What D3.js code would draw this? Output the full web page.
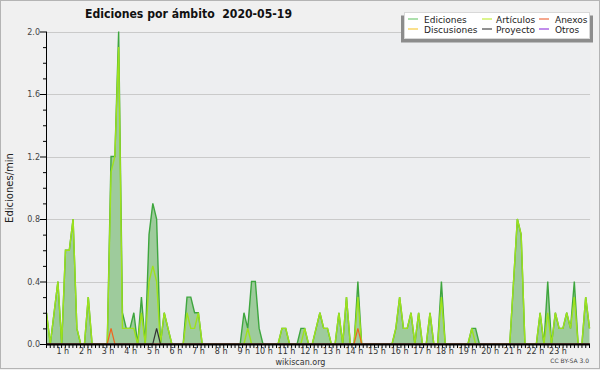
<!DOCTYPE html>
<html><head><meta charset="utf-8">
<script src="https://cdn.jsdelivr.net/npm/d3@7"></script>
<style>
html,body{margin:0;padding:0;background:#f0f0f0;}
svg{display:block;}
text{font-family:"DejaVu Sans",sans-serif;}
</style></head>
<body>
<svg id="c" width="600" height="370"></svg>
<script>
// ---- data: 10-minute bins, edits per minute, 2020-05-19 ----
const title = "Ediciones por ámbito  2020-05-19";
const yLabel = "Ediciones/min";
const hourLabels = ["1 h","2 h","3 h","4 h","5 h","6 h","7 h","8 h","9 h","10 h","11 h","12 h",
  "13 h","14 h","15 h","16 h","17 h","18 h","19 h","20 h","21 h","22 h","23 h"];
const yMajorTicks = [0, 0.4, 0.8, 1.2, 1.6, 2.0];
const yMinorTicks = [0.1,0.2,0.3,0.5,0.6,0.7,0.9,1.0,1.1,1.3,1.4,1.5,1.7,1.8,1.9];

const ediciones = [
  0.2,0,0.2,0.4,0,0.6,   0.6,0.8,0.1,0,0,0.3,
  0,0,0,0,0,1.2,         1.2,2.0,0.2,0.1,0.1,0.2,
  0,0.3,0,0.7,0.9,0.8,   0,0.2,0.1,0,0,0,
  0,0.3,0.3,0.2,0.2,0,   0,0,0,0,0,0,
  0,0,0,0,0.2,0.1,       0.4,0.4,0.1,0,0,0,
  0,0,0.1,0.1,0,0,       0,0.1,0.1,0,0,0.1,
  0.2,0.1,0.1,0,0,0.2,   0,0.3,0,0,0.4,0,
  0,0,0,0,0,0,           0,0,0.1,0.3,0.1,0.1,
  0.2,0,0.2,0,0,0.2,     0,0,0.4,0,0,0,
  0,0,0,0,0.1,0.1,       0,0,0,0,0,0,
  0,0,0,0.4,0.8,0.7,     0,0,0,0,0.2,0,
  0.4,0,0.2,0.1,0.1,0.2, 0.1,0.4,0,0,0.3,0.1
];
const articulos = [
  0.2,0,0.2,0.4,0,0.6,   0.6,0.8,0.1,0,0,0.3,
  0,0,0,0,0,1.1,         1.2,1.9,0.1,0.1,0.1,0.1,
  0,0.2,0,0.4,0.5,0.4,   0,0.2,0.1,0,0,0,
  0,0.2,0.1,0.1,0.2,0,   0,0,0,0,0,0,
  0,0,0,0,0,0.1,         0,0,0,0,0,0,
  0,0,0.1,0.1,0,0,       0,0,0.1,0,0,0.1,
  0.2,0.1,0.1,0,0,0.2,   0,0.3,0,0,0.3,0,
  0,0,0,0,0,0,           0,0,0.1,0.3,0.1,0.1,
  0.2,0,0.2,0,0,0.2,     0,0,0.3,0,0,0,
  0,0,0,0,0.1,0,         0,0,0,0,0,0,
  0,0,0,0.4,0.8,0.7,     0,0,0,0,0.2,0,
  0.2,0,0.2,0.1,0.1,0.2, 0.1,0.3,0,0,0.3,0.1
];
const anexos = [
  0,0,0,0,0,0,   0,0,0,0,0,0,   0,0,0,0,0,0.1, 0,0,0,0,0,0,
  0,0,0,0,0,0,   0,0,0,0,0,0,   0,0,0,0,0,0,   0,0,0,0,0,0,
  0,0,0,0,0,0,   0,0,0,0,0,0,   0,0,0,0,0,0,   0,0,0,0,0,0,
  0,0,0,0,0,0,   0,0,0,0,0.1,0, 0,0,0,0,0,0,   0,0,0,0,0,0,
  0,0,0,0,0,0,   0,0,0,0,0,0,   0,0,0,0,0,0,   0,0,0,0,0,0,
  0,0,0,0,0,0,   0,0,0,0,0,0,   0,0,0,0,0,0,   0,0,0,0,0,0
];
const discusiones = [
  0,0,0,0,0,0,   0,0,0,0,0,0,   0,0,0,0,0,0,   0,0,0,0,0,0,
  0,0,0,0,0,0,   0,0,0,0,0,0,   0,0,0,0,0,0,   0,0,0,0,0,0,
  0,0,0,0,0,0,   0,0,0,0,0,0,   0,0,0,0,0,0,   0,0,0,0,0,0,
  0,0,0,0,0,0,   0,0,0,0,0,0,   0,0,0,0,0,0,   0,0,0,0,0,0,
  0,0,0,0,0,0,   0,0,0,0,0,0,   0,0,0,0,0,0,   0,0,0,0,0,0,
  0,0,0,0,0,0,   0,0,0,0,0,0,   0,0,0,0,0,0,   0,0,0,0,0,0
];
const proyecto = [
  0,0,0,0,0,0,   0,0,0,0,0,0,   0,0,0,0,0,0,   0,0,0,0,0,0,
  0,0,0,0,0,0.1, 0,0,0,0,0,0,   0,0,0,0,0,0,   0,0,0,0,0,0,
  0,0,0,0,0,0,   0,0,0,0,0,0,   0,0,0,0,0,0,   0,0,0,0,0,0,
  0,0,0,0,0,0,   0,0,0,0,0,0,   0,0,0,0,0,0,   0,0,0,0,0,0,
  0,0,0,0,0,0,   0,0,0,0,0,0,   0,0,0,0,0,0,   0,0,0,0,0,0,
  0,0,0,0,0,0,   0,0,0,0,0,0,   0,0,0,0,0,0,   0,0,0,0,0,0
];
const otros = [
  0,0,0,0,0,0,   0,0,0,0,0,0,   0,0,0,0,0,0,   0,0,0,0,0,0,
  0,0,0,0,0,0,   0,0,0,0,0,0,   0,0,0,0,0,0,   0,0,0,0,0,0,
  0,0,0,0,0,0,   0,0,0,0,0,0,   0,0,0,0,0,0,   0,0,0,0,0,0,
  0,0,0,0,0,0,   0,0,0,0,0,0,   0,0,0,0,0,0,   0,0,0,0,0,0,
  0,0,0,0,0,0,   0,0,0,0,0,0,   0,0,0,0,0,0,   0,0,0,0,0,0,
  0,0,0,0,0,0,   0,0,0,0,0,0,   0,0,0,0,0,0,   0,0,0,0,0,0
];
const legendNames = ["Ediciones","Discusiones","Artículos","Proyecto","Anexos","Otros"];

// ---- drawing ----
const svg = d3.select("#c");
const L = 46, R = 589.5, T = 31.5, B = 344;
const xi = d3.scaleLinear().domain([0, ediciones.length - 1]).range([46.5, 589.5]);
const xh = d3.scaleLinear().domain([0, 24]).range([46, 589]);
const y = d3.scaleLinear().domain([0, 2]).range([B, T]);

svg.append("rect").attr("x",0.5).attr("y",0.5).attr("width",599).attr("height",368)
  .attr("fill","#f0f0f0").attr("stroke","#b4b4b4");
svg.append("rect").attr("x",L).attr("y",T).attr("width",R-L+1).attr("height",B-T)
  .attr("fill","#edeef0");

// grid
svg.append("g").selectAll("line").data(yMajorTicks.filter(d=>d>0)).join("line")
  .attr("x1",L).attr("x2",590).attr("y1",d=>Math.round(y(d))+0.5).attr("y2",d=>Math.round(y(d))+0.5)
  .attr("stroke","#cacaca").attr("stroke-width",1);

const line = arr => d3.line().x((d,i)=>xi(i)).y(d=>y(d))(arr);
const area = d3.area().x((d,i)=>xi(i)).y0(y(0)).y1(d=>y(d));

svg.append("path").attr("d", area(ediciones)).attr("fill","#9ecb9c");
svg.append("path").attr("d", line(ediciones)).attr("fill","none").attr("stroke","#3ea63e").attr("stroke-width",1.4);
svg.append("path").attr("d", line(articulos)).attr("fill","none").attr("stroke","#9ee21c").attr("stroke-width",1.4);
svg.append("path").attr("d", line(discusiones)).attr("fill","none").attr("stroke","#f5d03c").attr("stroke-width",1.2);
svg.append("path").attr("d", line(otros)).attr("fill","none").attr("stroke","#9a4ee0").attr("stroke-width",1.2);
svg.append("path").attr("d", line(anexos)).attr("fill","none").attr("stroke","#f0641e").attr("stroke-width",1.2);
svg.append("path").attr("d", line(proyecto)).attr("fill","none").attr("stroke","#333").attr("stroke-width",1.2);

// y axis
const yAx = svg.append("g").attr("transform",`translate(${L},0)`)
  .call(d3.axisLeft(y).tickValues(yMajorTicks).tickSize(6).tickFormat(d3.format(".1f")));
const yMin = svg.append("g").attr("transform",`translate(${L},0)`)
  .call(d3.axisLeft(y).tickValues(yMinorTicks).tickSize(3).tickFormat(""));
[yAx,yMin].forEach(g=>{g.select(".domain").remove(); g.selectAll("line").attr("stroke","#000");});
yAx.selectAll("text").attr("x",-6).attr("font-size","8px").attr("fill","#444").attr("font-family","DejaVu Sans");
svg.append("line").attr("x1",L+0.5).attr("x2",L+0.5).attr("y1",T).attr("y2",B+1).attr("stroke","#000");

// x axis
const xTicks = d3.range(0, 24*6+1).map(d=>d/6);
const xAx = svg.append("g").attr("transform",`translate(0,${B})`)
  .call(d3.axisBottom(xh).tickValues(xTicks).tickSize(4).tickFormat(""));
xAx.select(".domain").remove();
xAx.selectAll("line").attr("stroke","#000");
svg.append("line").attr("x1",L).attr("x2",590).attr("y1",B+0.5).attr("y2",B+0.5).attr("stroke","#000").attr("stroke-width",2);
svg.append("g").selectAll("text").data(hourLabels).join("text")
  .attr("x",(d,i)=>xh(i+1)+0.5).attr("y",354).attr("text-anchor","end")
  .attr("font-size","8px").attr("fill","#333").text(d=>d);

// titles
svg.append("text").attr("x",85).attr("y",18).attr("text-anchor","start")
  .attr("font-family","'DejaVu Sans Condensed','DejaVu Sans',sans-serif").attr("font-weight","bold")
  .attr("font-size","12px").attr("fill","#111")
  .attr("textLength",207).attr("lengthAdjust","spacingAndGlyphs")
  .style("white-space","pre").attr("xml:space","preserve").text(title);
svg.append("text").attr("transform","translate(13,188) rotate(-90)").attr("text-anchor","middle")
  .attr("font-family","'DejaVu Sans Mono',monospace").attr("font-size","10px").attr("fill","#222").text(yLabel);
svg.append("text").attr("x",300.5).attr("y",365).attr("text-anchor","middle")
  .attr("font-size","8px").attr("fill","#333").text("wikiscan.org");
svg.append("text").attr("x",589).attr("y",363).attr("text-anchor","end")
  .attr("font-size","6px").attr("fill","#444").text("CC BY-SA 3.0");

// legend
const lg = svg.append("g");
lg.append("rect").attr("x",401).attr("y",15.5).attr("width",192).attr("height",27).attr("fill","#8c8c8c");
lg.append("rect").attr("x",404.5).attr("y",12.5).attr("width",185).attr("height",26).attr("fill","#fff").attr("stroke","#d8d8d8");
const legendColors = ["#80cf80","#f8d050","#c8ee50","#555555","#f07850","#a050e0"];
const colX = [408, 482, 539], colT = [424, 496, 555];
legendNames.forEach((n,k)=>{
  const c = Math.floor(k/2), r = k%2;
  const yy = 19 + r*10;
  lg.append("line").attr("x1",colX[c]).attr("x2",colX[c]+10).attr("y1",yy).attr("y2",yy)
    .attr("stroke",legendColors[k]).attr("stroke-width",1.3);
  lg.append("text").attr("x",colT[c]).attr("y",yy+3.5).attr("font-size","9px").attr("fill","#222").text(n);
});
</script>
</body></html>
